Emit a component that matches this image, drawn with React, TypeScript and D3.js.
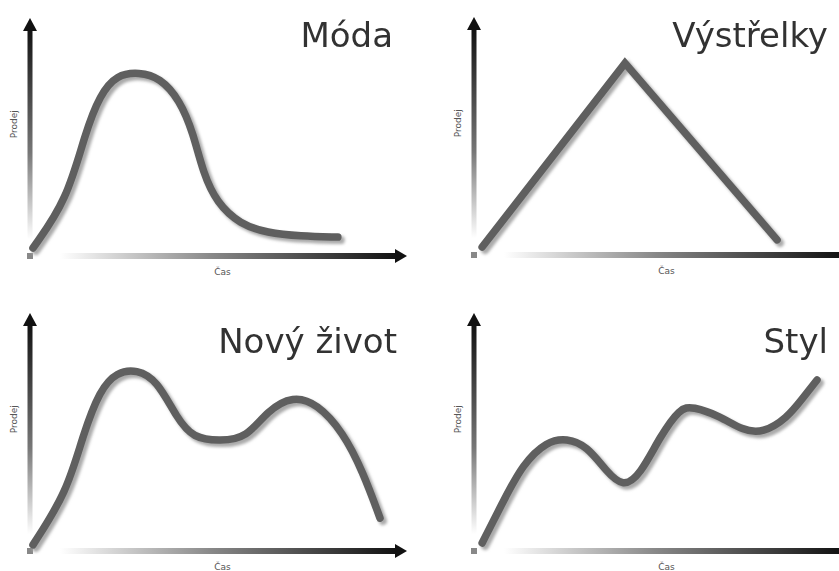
import React from "react";
import * as d3 from "d3";

type Pt = [number, number];

// Data in abstract units: x = time (0..100), y = sales (0..100)
const modaData: Pt[] = [
  [0.8, 3.8], [10, 24], [14.9, 52.3], [18.9, 68.5], [23.5, 77], [29.5, 78],
  [35.1, 75.7], [40.5, 66.2], [44.1, 52.3], [46.8, 35.4], [50.5, 22.8],
  [56.8, 13.8], [64.1, 10.2], [73, 8.8], [83.2, 8.4],
];
const vystrelkyData: Pt[] = [[2.2, 3.8], [40.8, 81.4], [81.9, 6.8]];
const novyZivotData: Pt[] = [
  [0.8, 3], [10, 25.3], [14.3, 49.4], [18.9, 68.5], [23.5, 76], [28.9, 77],
  [34.3, 72.5], [39.7, 56.5], [44.1, 48], [51.4, 46.8], [58.6, 48.2],
  [64.1, 59.6], [71.1, 66], [77.6, 62.6], [84.6, 50.6], [90, 33.8], [94.6, 14.3],
];
const stylData: Pt[] = [
  [2.2, 3.8], [7.8, 21.1], [13.2, 37.2], [19.7, 46.8], [25.1, 48], [30.5, 44.8],
  [35.9, 33.8], [40.3, 27.3], [44.9, 32.5], [50.3, 48.8], [55.7, 60.8],
  [59, 61.4], [66.5, 57.4], [72.7, 51.2], [78.1, 50.2], [84.6, 56.5],
  [88.9, 65], [92.7, 72.6],
];

const titles = ["Móda", "Výstřelky", "Nový život", "Styl"];
const yLabel = "Prodej";
const xLabel = "Čas";

const panels = [
  { title: titles[0], data: modaData, linear: false, ox: 30, oy: 257, titleX: 393, titleY: 47 },
  { title: titles[1], data: vystrelkyData, linear: true, ox: 474, oy: 256, titleX: 828, titleY: 47 },
  { title: titles[2], data: novyZivotData, linear: false, ox: 30, oy: 552, titleX: 397, titleY: 353 },
  { title: titles[3], data: stylData, linear: false, ox: 474, oy: 552, titleX: 828, titleY: 353 },
];

const x = d3.scaleLinear().domain([0, 100]).range([0, 370]);
const y = d3.scaleLinear().domain([0, 100]).range([0, -237]);

export default function App() {
  const font = "'DejaVu Sans', Verdana, sans-serif";
  return (
    <svg
      width={839}
      height={571}
      style={{ position: "absolute", left: 0, top: 0, background: "#fff" }}
    >
      <defs>
        <linearGradient id="gy" x1="0" y1="0" x2="0" y2="1">
          <stop offset="0" stopColor="#111" />
          <stop offset="0.55" stopColor="#777" />
          <stop offset="0.93" stopColor="#fff" />
          <stop offset="1" stopColor="#fff" />
        </linearGradient>
        <linearGradient id="gx" x1="0" y1="0" x2="1" y2="0">
          <stop offset="0" stopColor="#fff" />
          <stop offset="0.45" stopColor="#888" />
          <stop offset="1" stopColor="#111" />
        </linearGradient>
        <filter id="blur" x="-10%" y="-10%" width="120%" height="120%">
          <feGaussianBlur stdDeviation="1.6" />
        </filter>
        <filter id="soft" x="-10%" y="-10%" width="120%" height="120%">
          <feGaussianBlur stdDeviation="0.5" />
        </filter>
        <filter id="tsoft" x="-5%" y="-5%" width="110%" height="110%">
          <feGaussianBlur stdDeviation="0.35" />
        </filter>
      </defs>
      {panels.map((p, i) => {
        const line = d3
          .line<Pt>()
          .x((d) => x(d[0]))
          .y((d) => y(d[1]))
          .curve(p.linear ? d3.curveLinear : d3.curveBasis);
        const path = line(p.data) || "";
        const top = y(100) - 2;
        const xEnd = x(100) + 7;
        return (
          <g key={i} transform={`translate(${p.ox},${p.oy})`}>
            {/* y axis */}
            <rect x={-2.5} y={top + 10} width={5} height={-top - 12} fill="url(#gy)" />
            <path d={`M${-7},${top + 13} L0,${top} L7,${top + 13} Z`} fill="#111" />
            {/* origin square */}
            <rect x={-3} y={-4} width={6} height={6} fill="#888" />
            {/* x axis */}
            <rect x={30} y={-4} width={xEnd - 40} height={6} fill="url(#gx)" />
            <path d={`M${xEnd - 12},${-8} L${xEnd},${-1} L${xEnd - 12},${6} Z`} fill="#111" />
            {/* labels */}
            <text
              transform={`translate(-13,${y(56)}) rotate(-90)`}
              textAnchor="middle"
              fontFamily={font}
              fontSize={9}
              fill="#555"
            >
              {yLabel}
            </text>
            <text
              x={x(52)}
              y={18}
              textAnchor="middle"
              fontFamily={font}
              fontSize={9}
              fill="#555"
            >
              {xLabel}
            </text>
            {/* curve shadow */}
            <path
              d={path}
              transform="translate(3,3)"
              fill="none"
              stroke="#aaa"
              strokeWidth={8}
              strokeLinecap="round"
              strokeLinejoin="miter"
              filter="url(#blur)"
            />
            {/* curve */}
            <path
              d={path}
              fill="none"
              stroke="#5f5f5f"
              strokeWidth={7.5}
              strokeLinecap="round"
              strokeLinejoin="miter"
              filter="url(#soft)"
            />
          </g>
        );
      })}
      {panels.map((p, i) => (
        <text
          key={"t" + i}
          x={p.titleX}
          y={p.titleY}
          textAnchor="end"
          fontFamily={font}
          fontSize={34}
          fill="#333"
          filter="url(#tsoft)"
        >
          {p.title}
        </text>
      ))}
    </svg>
  );
}
